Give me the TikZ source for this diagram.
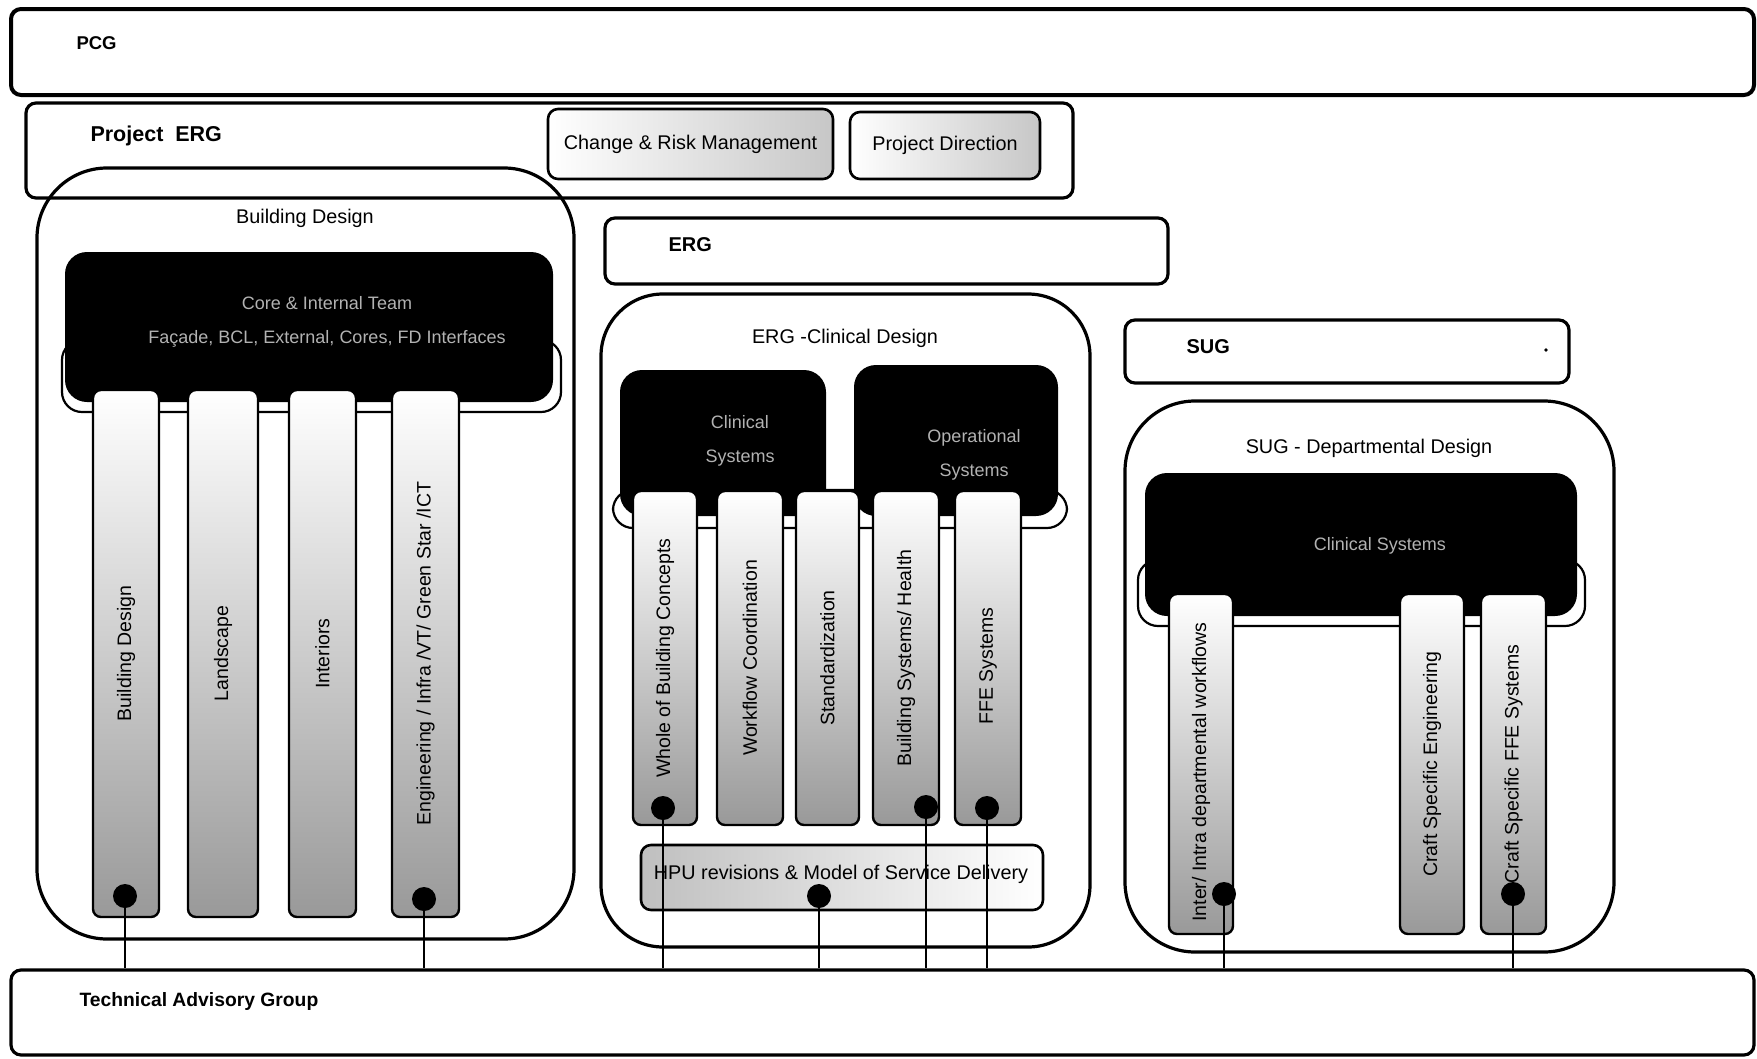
\documentclass[tikz,border=0pt]{standalone}
\usepackage{fontspec}
\setmainfont{Liberation Sans}
\usetikzlibrary{fit}
\begin{document}
\begin{tikzpicture}[x=1pt,y=-1pt,
 frame/.style={draw, line width=3.2pt, rounded corners=10pt, inner sep=0pt},
 bigframe/.style={draw, line width=3.2pt, rounded corners=70pt, inner sep=0pt},
 plate/.style={draw, line width=2.2pt, fill=white, rounded corners=20pt, inner sep=0pt},
 blackbox/.style={fill=black, rounded corners=22pt, inner sep=0pt},
 column/.style={draw, line width=2.4pt, rounded corners=8pt, inner sep=0pt, top color=white, bottom color=black!40},
 vlabel/.style={rotate=90, font=\fontsize{19.5}{21}\selectfont},
 title/.style={font=\bfseries\fontsize{20}{22}\selectfont, anchor=west},
 lbl/.style={font=\fontsize{19.8}{22}\selectfont},
 wlbl/.style={font=\fontsize{18}{34}\selectfont, text=black!30, align=center},
 dot/.style={circle, fill=black, minimum size=24pt, inner sep=0pt},
 link/.style={line width=2pt}
]
\useasboundingbox (0,0) rectangle (1757,1058);
\fill[white] (0,0) rectangle (1757,1058);

% top bands
\node[frame, line width=4pt, fit={(11,9) (1754,95)}] (pcg) {};
\node[title, font=\bfseries\fontsize{18.5}{20}\selectfont] (pcgl) at (73,43) {PCG};

\node[frame, fit={(26,103) (1073,198)}] (perg) {};
\node[title, font=\bfseries\fontsize{21.5}{24}\selectfont] (pergl) at (87,136) {Project\ \ ERG};
\node[frame, line width=2.6pt, left color=white, right color=black!22, fit={(548,109) (833,179)}] (crm) {};
\node[lbl] (crml) at (crm.center) {Change \& Risk Management};
\node[frame, line width=2.6pt, left color=white, right color=black!22, fit={(850,112) (1040,179)}] (pdir) {};
\node[lbl] (pdirl) at (pdir.center) {Project Direction};

% Building Design
\node[bigframe, fit={(37,168) (574,939)}] (bd) {};
\node[lbl] (bdl) at (305,218) {Building Design};
\node[plate, fit={(62,340) (561,412)}] (bdp) {};
\node[blackbox, fit={(65,252) (553,402)}] (bdb) {};
\node[wlbl] (bdbl) at (327,322) {Core \& Internal Team\\Façade, BCL, External, Cores, FD Interfaces};
\node[column, fit={(93,390) (159,917)}] (c1) {};
\node[column, fit={(188,390) (258,917)}] (c2) {};
\node[column, fit={(289,390) (356,917)}] (c3) {};
\node[column, fit={(392,390) (459,917)}] (c4) {};
\node[vlabel] (c1l) at (c1.center) {Building Design};
\node[vlabel] (c2l) at (c2.center) {Landscape};
\node[vlabel] (c3l) at (c3.center) {Interiors};
\node[vlabel] (c4l) at (c4.center) {Engineering / Infra /VT/ Green Star /ICT};

% ERG
\node[frame, fit={(605,218) (1168,284)}] (erg) {};
\node[title] (ergl) at (665,245) {ERG};
\node[bigframe, rounded corners=62pt, fit={(601,294) (1090,947)}] (ecd) {};
\node[lbl] (ecdl) at (845,338) {ERG -Clinical Design};
\node[plate, fit={(613,490) (1067,528)}] (ecp) {};
\node[blackbox, fit={(620,370) (826,516)}] (csb) {};
\node[blackbox, fit={(854,365) (1058,516)}] (osb) {};
\node[wlbl] (csbl) at (740,441) {Clinical\\Systems};
\node[wlbl] (osbl) at (974,455) {Operational\\Systems};
\node[column, fit={(633,491) (697,825)}] (e1) {};
\node[column, fit={(717,491) (783,825)}] (e2) {};
\node[column, fit={(796,491) (859,825)}] (e3) {};
\node[column, fit={(873,491) (939,825)}] (e4) {};
\node[column, fit={(955,491) (1021,825)}] (e5) {};
\node[vlabel] (e1l) at (e1.center) {Whole of Building Concepts};
\node[vlabel] (e2l) at (e2.center) {Workflow Coordination};
\node[vlabel] (e3l) at (e3.center) {Standardization};
\node[vlabel] (e4l) at (e4.center) {Building Systems/ Health};
\node[vlabel] (e5l) at ([yshift=-8pt]e5.center) {FFE Systems};
\node[frame, line width=2.6pt, left color=black!25, right color=white, fit={(641,845) (1043,910)}] (hpu) {};
\node[lbl] (hpul) at (841,874) {HPU revisions \& Model of Service Delivery};

% SUG
\node[frame, fit={(1125,320) (1569,383)}] (sug) {};
\node[title] (sugl) at (1183,347) {SUG};
\fill (1546,350) circle (1.8pt);
\node[bigframe, fit={(1125,401) (1614,952)}] (sdd) {};
\node[lbl] (sddl) at (1369,448) {SUG - Departmental Design};
\node[plate, fit={(1138,560) (1585,626)}] (sdp) {};
\node[blackbox, fit={(1145,473) (1577,616)}] (sdb) {};
\node[wlbl] (sdbl) at (1380,546) {Clinical Systems};
\node[column, fit={(1169,594) (1233,934)}] (s1) {};
\node[column, fit={(1400,594) (1464,934)}] (s2) {};
\node[column, fit={(1481,594) (1546,934)}] (s3) {};
\node[vlabel] (s1l) at ([yshift=-8pt]s1.center) {Inter/ Intra departmental workflows};
\node[vlabel] (s2l) at (s2.center) {Craft Specific Engineering};
\node[vlabel] (s3l) at (s3.center) {Craft Specific FFE Systems};

% Technical Advisory Group
\node[frame, fit={(11,970) (1754,1055)}] (tag) {};
\node[title, font=\bfseries\fontsize{19.3}{21}\selectfont] (tagl) at (76,1001) {Technical Advisory Group};

% dots
\coordinate (pd1) at (125,896);
\coordinate (pd2) at (424,899);
\coordinate (pd3) at (663,808);
\coordinate (pd4) at (926,807);
\coordinate (pd5) at (987,808);
\coordinate (pd6) at (819,896);
\coordinate (pd7) at (1224,894);
\coordinate (pd8) at (1513,894);
\foreach \d in {pd1,pd2,pd3,pd4,pd5,pd6,pd7,pd8}{
  \draw[link] (\d) -- (\d |- tag.north);
}
\node[dot] (d1) at (pd1) {};
\node[dot] (d2) at (pd2) {};
\node[dot] (d3) at (pd3) {};
\node[dot] (d4) at (pd4) {};
\node[dot] (d5) at (pd5) {};
\node[dot] (d6) at (pd6) {};
\node[dot] (d7) at (pd7) {};
\node[dot] (d8) at (pd8) {};
\end{tikzpicture}
\end{document}
